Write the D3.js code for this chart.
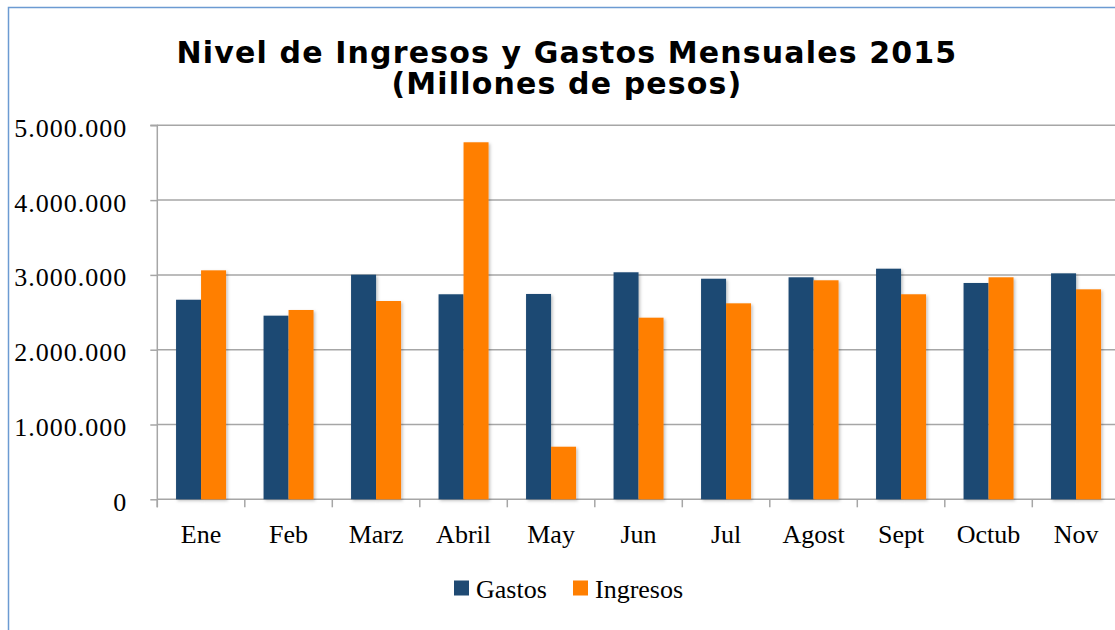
<!DOCTYPE html>
<html>
<head>
<meta charset="utf-8">
<script src="https://cdn.jsdelivr.net/npm/d3@7"></script>
<style>
  html, body { margin: 0; padding: 0; background: #fff; }
  svg { display: block; }
</style>
</head>
<body>
<svg id="chart" width="1115" height="630"></svg>
<script>
const categories = ["Ene", "Feb", "Marz", "Abril", "May", "Jun", "Jul", "Agost", "Sept", "Octub", "Nov"];
const gastos   = [2668000, 2455000, 3003000, 2741000, 2745000, 3035000, 2949000, 2968000, 3083000, 2892000, 3021000];
const ingresos = [3061000, 2531000, 2651000, 4773000, 703000, 2428000, 2620000, 2928000, 2741000, 2968000, 2807000];
const seriesNames = ["Gastos", "Ingresos"];
const seriesColors = ["#1F4A73", "#FF7F00"];
const yTicks = [0, 1000000, 2000000, 3000000, 4000000, 5000000];
const titleLines = ["Nivel de Ingresos y Gastos Mensuales 2015", "(Millones de pesos)"];

const svg = d3.select("#chart");
const W = 1115, H = 630;

// chart border
svg.append("rect")
  .attr("x", 8.5).attr("y", 7.5)
  .attr("width", W + 20).attr("height", H + 20)
  .attr("fill", "#fff")
  .attr("stroke", "#6C9BD2").attr("stroke-width", 1.5);

const defs = svg.append("defs");
const f = defs.append("filter").attr("id", "shadow")
  .attr("x", "-20%").attr("y", "-5%").attr("width", "150%").attr("height", "115%");
f.append("feDropShadow").attr("dx", 1.5).attr("dy", 1.5).attr("stdDeviation", 1.5)
  .attr("flood-color", "#000").attr("flood-opacity", 0.25);

const left = 157.3, bandW = 87.5;
const x = d3.scaleBand().domain(categories)
  .range([left, left + bandW * categories.length])
  .paddingInner(1.5 / 3.5).paddingOuter(0.75 / 3.5);
const xs = d3.scaleBand().domain(seriesNames).range([0, x.bandwidth()]);
const y = d3.scaleLinear().domain([0, 5000000]).range([499.3, 125.3]);

const fmt = v => d3.format(",")(v).replace(/,/g, ".");

// gridlines
svg.append("g").selectAll("line").data(yTicks.slice(1)).join("line")
  .attr("x1", left).attr("x2", W)
  .attr("y1", d => y(d)).attr("y2", d => y(d))
  .attr("stroke", "#A6A6A6").attr("stroke-width", 1.5);

// y axis
const yAxis = svg.append("g").attr("transform", `translate(${left},0)`)
  .call(d3.axisLeft(y).tickValues(yTicks).tickSize(7).tickPadding(23).tickFormat(fmt));
yAxis.attr("font-family", null).attr("font-size", null);
yAxis.select(".domain").attr("stroke", "#A6A6A6").attr("stroke-width", 1.5)
  .attr("d", `M-7,${y(5000000)}H0V${y(0) + 8}`);
yAxis.selectAll(".tick line").attr("stroke", "#A6A6A6").attr("stroke-width", 1.5);
yAxis.selectAll("text")
  .style("font-family", "'Liberation Serif', serif").style("font-size", "26px")
  .style("letter-spacing", "1px")
  .attr("fill", "#000").attr("dy", "0.42em");

// x axis
const xAxis = svg.append("g").attr("transform", `translate(0,${y(0)})`)
  .call(d3.axisBottom(x).tickSize(0).tickPadding(25));
xAxis.attr("font-family", null).attr("font-size", null);
xAxis.select(".domain").attr("stroke", "#A6A6A6").attr("stroke-width", 1.5)
  .attr("d", `M${left},0H${W}`);
xAxis.selectAll("text")
  .style("font-family", "'Liberation Serif', serif").style("font-size", "26px").attr("fill", "#000");
// boundary ticks
svg.append("g").selectAll("line").data(categories).join("line")
  .attr("x1", d => x(d) - x.step() * x.paddingOuter())
  .attr("x2", d => x(d) - x.step() * x.paddingOuter())
  .attr("y1", y(0)).attr("y2", y(0) + 8)
  .attr("stroke", "#A6A6A6").attr("stroke-width", 1.5);

// bars
const data = categories.map((c, i) => ({c, vals: [gastos[i], ingresos[i]]}));
const groups = svg.append("g").selectAll("g").data(data).join("g")
  .attr("transform", d => `translate(${x(d.c)},0)`);
groups.selectAll("rect").data(d => d.vals.map((v, j) => ({v, s: seriesNames[j], color: seriesColors[j]})))
  .join("rect")
  .attr("x", d => xs(d.s)).attr("width", xs.bandwidth())
  .attr("y", d => y(d.v)).attr("height", d => y(0) - y(d.v))
  .attr("fill", d => d.color)
  .attr("filter", "url(#shadow)");

// title (one text element, two lines)
const title = svg.append("text")
  .attr("text-anchor", "middle")
  .style("font-family", "'DejaVu Sans', Verdana, sans-serif").style("font-weight", "bold")
  .style("font-size", "30px").style("letter-spacing", "1.15px")
  .attr("fill", "#000");
title.selectAll("tspan").data(titleLines).join("tspan")
  .attr("x", 567).attr("y", (d, i) => 63.3 + i * 30.3)
  .text(d => d);

// legend
const legX = [454, 573];
const leg = svg.append("g").selectAll("g").data(seriesNames).join("g")
  .attr("transform", (d, i) => `translate(${legX[i]},580.5)`);
leg.append("rect").attr("width", 15).attr("height", 15).attr("fill", (d, i) => seriesColors[i]);
leg.append("text").attr("x", 22).attr("y", 17.5)
  .style("font-family", "'Liberation Serif', serif").style("font-size", "26px")
  .attr("fill", "#000").text(d => d);
</script>
</body>
</html>
